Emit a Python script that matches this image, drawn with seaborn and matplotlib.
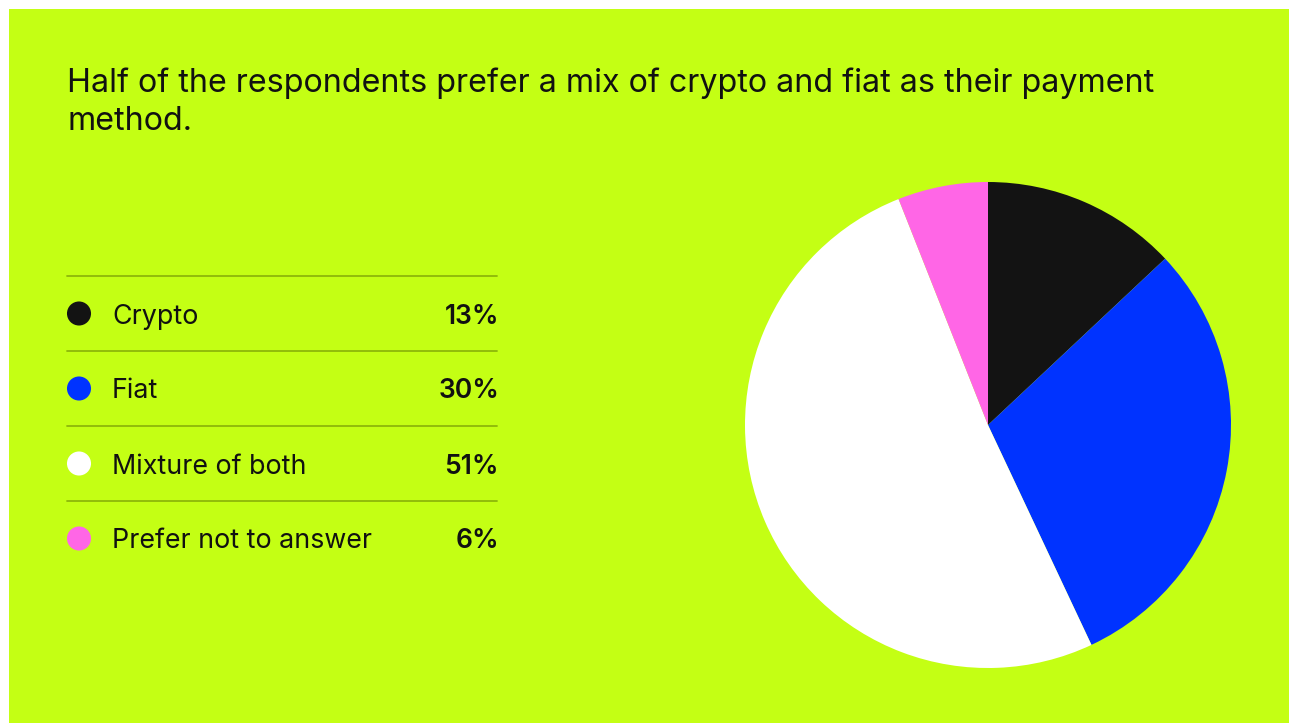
import matplotlib
matplotlib.use("Agg")
import matplotlib.pyplot as plt
from matplotlib.patches import Rectangle
import seaborn as sns
import pandas as pd

# Survey answers: preferred payment method
categories = ["Crypto", "Fiat", "Mixture of both", "Prefer not to answer"]
shares = [13, 30, 51, 6]
colors = ["#131313", "#0033FF", "#FFFFFF", "#FF66E6"]
title_lines = ["Half of the respondents prefer a mix of crypto and fiat as their payment",
               "method."]

BG = "#C4FF14"
RULE = "#8DB80A"
FONT = ["Inter", "DejaVu Sans"]

sns.set_theme(style="white")
plt.rcParams["font.family"] = FONT

W, H = 1289, 723
fig = plt.figure(figsize=(W / 100, H / 100), dpi=100, facecolor="white")

# Canvas axes in pixel units (origin top-left)
canvas = fig.add_axes([0, 0, 1, 1])
canvas.set_xlim(0, W)
canvas.set_ylim(H, 0)
canvas.axis("off")
canvas.add_patch(Rectangle((9, 9), W - 9, H - 9, facecolor=BG, edgecolor="none", zorder=0))

for k, line in enumerate(title_lines):
    canvas.text(67, 92 + 38 * k, line, fontsize=23.2, color="#111111",
                va="baseline", ha="left", zorder=3)

# Legend table
df = pd.DataFrame({"category": categories, "share": shares, "color": colors})
row_top = 276
row_h = 75
df["y"] = [row_top + row_h * (i + 0.5) for i in range(len(df))]
df["x"] = 79

for i in range(len(df)):
    y = row_top + row_h * i
    canvas.plot([67, 497], [y, y], color=RULE, lw=1.3, zorder=2)

sns.scatterplot(data=df, x="x", y="y", hue="category", palette=dict(zip(categories, colors)),
                s=300, edgecolor="none", legend=False, ax=canvas, zorder=3)
canvas.set_xlabel("")
canvas.set_ylabel("")
canvas.set_xlim(0, W)
canvas.set_ylim(H, 0)
canvas.axis("off")

for _, r in df.iterrows():
    canvas.text(112, r["y"], r["category"], fontsize=19.3, color="#111111",
                va="center_baseline", ha="left", zorder=3)
    canvas.text(499, r["y"], f"{r['share']}%", fontsize=19, fontweight="semibold",
                color="#111111", va="center_baseline", ha="right", zorder=3)

# Pie chart
cx, cy, rad = 988, 425, 243
pie_ax = fig.add_axes([(cx - rad) / W, (H - cy - rad) / H, 2 * rad / W, 2 * rad / H])
pie_ax.pie(shares, colors=colors, startangle=90, counterclock=False,
           wedgeprops=dict(linewidth=0), radius=1)
pie_ax.set_xlim(-1, 1)
pie_ax.set_ylim(-1, 1)
pie_ax.set_aspect("equal")
pie_ax.axis("off")

fig.savefig("out.png", dpi=100, facecolor="white")
